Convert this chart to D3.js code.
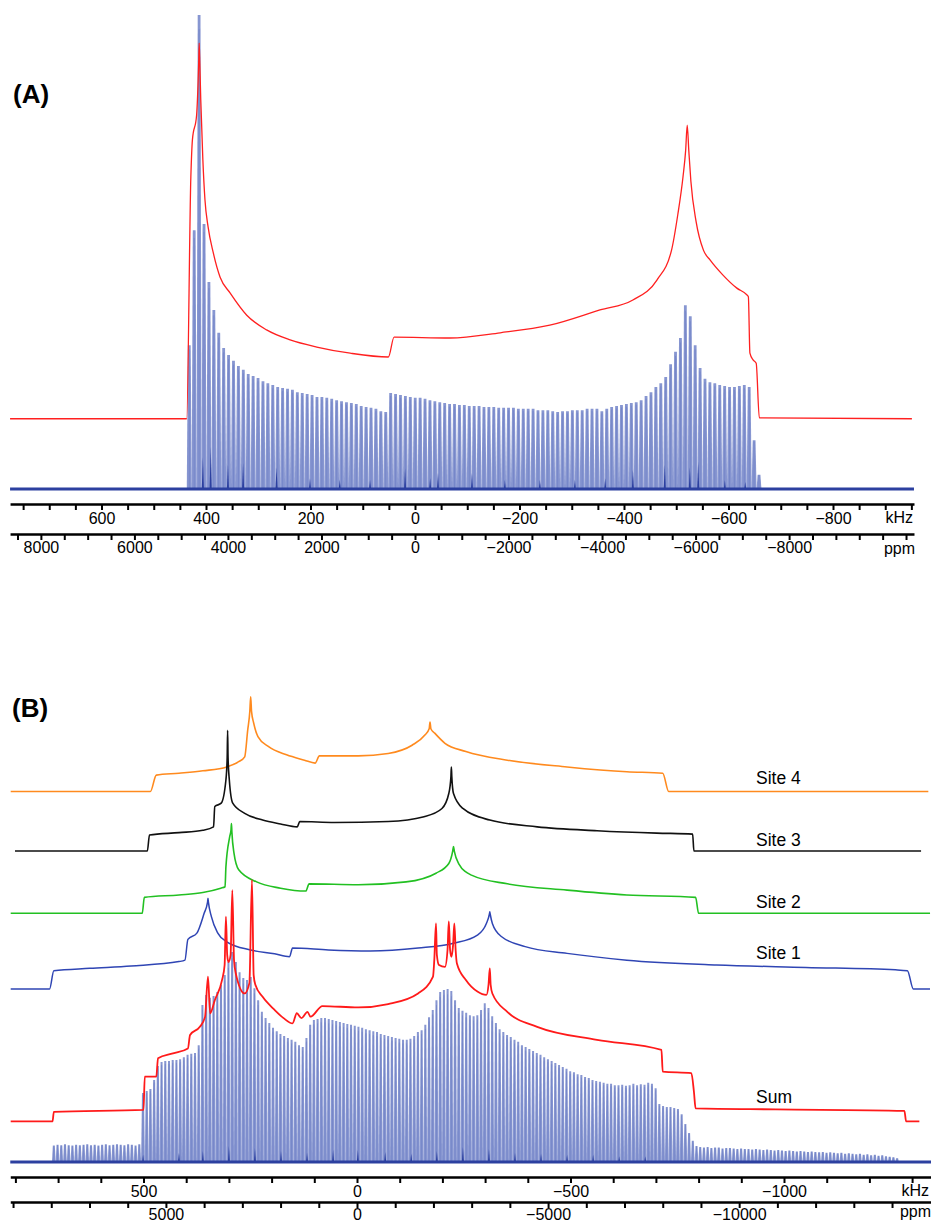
<!DOCTYPE html>
<html lang="en">
<head>
<meta charset="UTF-8">
<script src="https://d3js.org/d3.v7.min.js"></script>
<title>WURST-CPMG spectra</title>
<style>
  body { margin: 0; background: #fff; }
  svg text { font-family: "Liberation Sans", Arial, sans-serif; fill: #000; }
  .tick text { font-size: 16px; }
</style>
</head>
<body>
<svg id="chart" width="931" height="1222"></svg>
<script>
// ---------- panel A : experimental spikelets + simulation ----------
const larmor = 89.5;              // MHz, kHz <-> ppm
const axisExtA = [775, -955];     // kHz at the ends of the axis lines
const spkStartA = 432;            // kHz of first spikelet
const spkStepA = 9.4;             // spikelet spacing, kHz
const spkA = [30.5,54.7,100,56,43.8,37.9,33.1,29.9,28.4,27.2,26.1,25.3,24.4,24.0,23.6,22.9,22.5,22.1,21.7,21.5,
  21.3,21.1,20.6,20.4,20.2,20.0,19.6,19.6,19.4,19.2,18.9,18.7,18.5,18.3,18.1,17.7,17.5,17.3,17.1,16.6,
  16.4,20.4,20.2,20.0,19.8,19.6,19.4,19.4,19.2,18.9,18.7,18.5,18.3,18.1,18.1,17.9,17.9,17.7,17.7,17.7,
  17.5,17.5,17.5,17.3,17.3,17.3,17.3,17.1,17.1,17.1,17.1,16.8,16.8,16.8,16.6,16.4,16.6,16.6,16.8,16.8,
  16.8,17.1,17.1,17.1,16.6,17.1,17.5,17.7,17.9,18.1,18.3,18.5,18.9,19.8,20.6,21.7,22.5,23.8,26.5,29.1,
  32.0,38.9,36.6,30.5,25.7,23.4,22.7,22.5,22.1,21.9,21.7,21.7,21.9,22.1,21.7,10.5,3.2];
const satA = [[406,6.9],[391,9.1],[358,5.3],[329,5.7],[265,4.8],[201,2.5],[144,2.1],[86,2.1],[19,4.6],[-29,2.5],
  [-44,3.6],[-109,3.6],[-172,2.1],[-239,2.1],[-306,2.1],[-364,2.5],[-417,4.2],[-478,5.3],[-526,4.8],[-542,5.9],
  [-593,2.1],[-632,1.7]];
const redA = [[775,15.0],[437,15.0],[429,65.9],[426,73.7],[418,78.9],[414,90.0],[413,94.1],[412,90.5],[410,82.1],
  [406,69.5],[402,61.1],[396,55.4],[386,49.9],[373,44.8],[354,41.5],[322,36.8],[284,33.7],[239,31.6],[188,30.1],
  [124,28.8],[51,28.0],[40,32.2],[-67,32.0],[-163,33.1],[-258,34.7],[-354,37.9],[-417,40.0],[-463,44.2],
  [-491,50.5],[-503,58.0],[-513,66.0],[-518,71.5],[-521,76.8],[-524,71.5],[-528,65.0],[-538,56.5],[-552,50.5],
  [-565,48.4],[-589,45.3],[-616,42.5],[-635,41.1],[-638,40.7],[-641,28.8],[-647,27.4],[-653,26.7],[-659,15.2],
  [-951,15.0]];
const kHzLabA = [600,400,200,0,-200,-400,-600,-800];
const ppmLabA = [8000,6000,4000,2000,0,-2000,-4000,-6000,-8000];

// ---------- panel B : experimental spikelets + four sites and sum ----------
const axisExtB = [812, -1345];
const spkStartB = 710;
const spkStepB = 8.7;
const spkB = [3.6,3.8,3.7,3.9,3.7,3.6,3.8,3.7,3.8,3.9,3.7,3.8,3.6,3.8,3.9,3.7,3.8,3.9,3.8,3.7,3.9,3.8,3.6,3.9,
  14.5,14.9,15.3,17.2,20.1,20.9,21.1,21.1,21.3,21.3,21.5,21.9,22.4,22.6,22.8,24.4,32.7,34.8,34.2,34.6,35.4,36.9,
  38.9,41.6,43.7,41.6,39.5,38.3,37.9,38.5,36.2,33.7,31.3,30.0,29.0,28.0,27.3,26.7,26.3,25.9,25.5,25.1,24.4,24.0,
  25.9,28.6,29.6,29.8,30.0,30.0,29.8,29.6,29.4,29.2,29.0,28.8,28.6,28.4,28.2,28.0,27.7,27.5,27.3,27.1,26.7,26.5,
  26.3,26.1,25.9,25.7,25.5,25.5,25.7,26.3,27.1,27.5,28.6,30.2,31.7,33.7,35.4,35.8,36.0,35.6,33.7,32.1,31.5,31.1,
  30.6,30.4,30.6,31.7,33.1,32.1,30.4,29.0,27.7,27.1,26.5,26.1,25.5,25.1,24.4,24.0,23.6,23.2,22.8,22.4,21.9,21.5,
  21.1,20.7,20.3,19.9,19.5,19.0,18.8,18.4,18.2,17.8,17.6,17.2,17.0,16.8,16.6,16.4,16.4,16.1,16.1,16.2,16.0,16.1,
  16.4,16.1,16.3,16.2,16.6,16.4,15.5,12.2,11.8,11.6,11.6,11.4,11.2,10.1,8.1,6.2,4.6,3.5,
  3.3,3.2,3.3,3.1,3.2,3.2,3.0,3.1,3.1,3.0,2.9,3.0,2.9,2.9,2.8,2.9,2.8,2.7,2.8,2.7,2.6,2.7,2.6,2.5,2.6,2.5,2.4,
  2.5,2.4,2.3,2.4,2.3,2.2,2.3,2.1,2.2,2.1,2.0,2.1,1.9,2.0,1.9,1.8,1.9,1.7,1.8,1.6,1.7,1.5,1.6,1.4,1.3,1.2,1.0];
const satB = [[501,1.7],[417,2.1],[361,2.5],[300,3.5],[239,3.1],[178,2.5],[117,2.1],[56,2.7],[-2,2.7],[-66,2.3],
  [-127,1.9],[-187,2.5],[-248,3.3],[-309,2.9],[-370,2.1],[-431,1.9],[-492,1.7],[-553,1.7],[-614,1.4],[-675,1.4]];
const site4 = [[811,76.9],[484,76.9],[470,80.3],[417,80.7],[361,81.2],[305,82.0],[277,83.1],[263,84.1],[256,89.6],
  [251,93.5],[249,96.5],[247,93.5],[242,91.1],[232,88.3],[207,86.2],[165,84.5],[123,83.4],[98,82.8],[88,84.3],
  [-3,84.3],[-73,84.8],[-129,86.5],[-159,88.6],[-169,89.9],[-171,91.3],[-173,89.9],[-182,89.0],[-206,86.9],
  [-255,85.2],[-352,83.4],[-492,82.0],[-632,81.0],[-716,80.7],[-730,76.9],[-1338,76.9]];
const site3 = [[801,64.6],[491,64.6],[486,67.9],[417,68.4],[361,68.9],[336,69.6],[333,73.8],[318,74.5],[307,79.3],
  [304,84.0],[303,89.6],[302,84.0],[299,79.3],[291,74.5],[263,72.4],[221,71.0],[179,70.2],[140,69.6],[134,70.7],
  [53,70.5],[-73,70.7],[-157,71.7],[-199,73.4],[-215,76.5],[-220,80.0],[-221,82.0],[-222,80.0],[-226,76.5],
  [-248,73.4],[-311,71.0],[-422,69.6],[-562,68.8],[-702,68.3],[-786,68.1],[-789,64.6],[-1321,64.6]];
const site2 = [[811,51.7],[503,51.7],[498,55.0],[417,55.5],[361,56.0],[319,56.9],[309,57.2],[307,61.3],[298,67.6],
  [295,69.0],[294,70.3],[293,68.5],[288,64.1],[277,60.7],[235,58.2],[179,56.9],[120,56.3],[112,57.8],[-3,57.6],
  [-115,58.2],[-185,60.0],[-215,62.0],[-224,64.5],[-226,65.5],[-228,64.5],[-238,62.0],[-268,59.6],[-352,57.8],
  [-492,56.5],[-632,55.5],[-793,55.0],[-800,51.7],[-1342,51.7]];
const site1 = [[811,36.0],[720,36.0],[710,39.8],[626,40.3],[529,40.8],[417,41.7],[403,42.0],[396,46.3],[375,47.6],
  [358,51.7],[350,54.0],[349,54.8],[348,54.0],[341,51.0],[326,47.6],[305,45.8],[249,44.1],[193,43.3],[158,42.7],
  [151,44.5],[67,44.1],[-31,43.9],[-143,44.5],[-226,45.5],[-282,47.2],[-303,49.6],[-310,51.5],[-311,52.0],
  [-312,51.5],[-317,49.6],[-338,46.9],[-394,44.8],[-492,43.4],[-632,42.0],[-842,41.0],[-1051,40.5],[-1261,40.0],
  [-1289,39.8],[-1303,36.0],[-1342,36.0]];
const sumB = [[811,8.6],[713,8.6],[710,10.6],[500,11.0],[497,17.9],[470,17.9],[466,21.7],[431,22.7],[396,23.7],
  [391,26.5],[368,28.2],[356,30.2],[349,38.6],[344,31.0],[333,33.7],[316,37.9],[310,41.0],[307,51.0],[304,43.1],
  [301,41.6],[296,43.1],[292,56.5],[288,42.0],[284,39.3],[263,35.1],[252,37.3],[246,58.6],[242,38.9],[238,36.9],
  [221,34.4],[193,31.7],[172,30.0],[151,28.9],[141,31.0],[130,30.0],[116,31.3],[109,30.3],[81,32.5],[-3,32.2],
  [-73,32.9],[-143,35.1],[-178,38.6],[-181,42.0],[-185,49.6],[-187,43.1],[-192,41.0],[-206,40.6],[-212,44.1],
  [-215,50.0],[-218,44.1],[-221,42.7],[-225,45.1],[-228,49.6],[-231,44.1],[-234,41.3],[-255,37.9],[-282,35.5],
  [-303,34.8],[-308,36.9],[-311,40.3],[-313,36.9],[-317,35.1],[-352,31.3],[-422,28.2],[-562,25.5],[-713,23.4],
  [-716,18.9],[-783,18.6],[-789,14.8],[-793,11.3],[-981,11.1],[-1282,10.8],[-1286,8.6],[-1317,8.6]];
const kHzLabB = [500,0,-500,-1000];
const ppmLabB = [5000,0,-5000,-10000];
const siteNames = ["Site 4","Site 3","Site 2","Site 1","Sum"];

// ---------- drawing ----------
const svg = d3.select("#chart");
const fmt = d3.format("d");
const toPpm = v => v * 1000 / larmor;

function spectrum(g, x, y, start, step, heights, sats, halfW, topW) {
  const y0 = y(0);
  g.selectAll("path.spk").data(heights).join("path")
    .attr("class", "spk")
    .attr("d", (h, i) => {
      const cx = x(start - i * step), top = y(h);
      return `M${cx - halfW},${y0}L${cx - topW},${top}L${cx + topW},${top}L${cx + halfW},${y0}Z`;
    })
    .attr("fill", "#8796d1");
  g.selectAll("line.ctr").data(heights).join("line")
    .attr("class", "ctr")
    .attr("x1", (h, i) => x(start - i * step)).attr("x2", (h, i) => x(start - i * step))
    .attr("y1", y0).attr("y2", h => y(h * 0.97))
    .attr("stroke", "#3f54b0").attr("stroke-width", 0.5).attr("stroke-opacity", 0.45);
  const ext = x.domain();
  g.append("line")
    .attr("x1", x(ext[0])).attr("x2", x(ext[1]))
    .attr("y1", y0 - 1).attr("y2", y0 - 1)
    .attr("stroke", "#2c40a0").attr("stroke-width", 3);
  g.selectAll("path.sat").data(sats).join("path")
    .attr("class", "sat")
    .attr("d", d => `M${x(d[0]) - 1.1},${y0}L${x(d[0])},${y(d[1])}L${x(d[0]) + 1.1},${y0}Z`)
    .attr("fill", "#2c40a0");
}

function axes(x, ext, ppmTicks, kTicks, kLab, pLab, yk, yp, unitX, pPad, unitDy) {
  const xp = d3.scaleLinear().domain(ext.map(toPpm)).range(x.range());
  const ak = svg.append("g").attr("transform", `translate(0,${yk})`)
    .call(d3.axisBottom(x).tickValues(kTicks).tickSize(6).tickSizeOuter(0).tickPadding(3)
      .tickFormat(d => kLab.includes(d) ? fmt(d) : ""));
  const ap = svg.append("g").attr("transform", `translate(0,${yp})`)
    .call(d3.axisBottom(xp).tickValues(ppmTicks).tickSize(6).tickSizeOuter(0).tickPadding(pPad)
      .tickFormat(d => pLab.includes(d) ? fmt(d) : ""));
  [ak, ap].forEach(a => {
    a.select(".domain").attr("stroke", "#000").attr("stroke-width", 2.6);
    a.selectAll(".tick line").attr("stroke", "#000").attr("stroke-width", 2);
    a.selectAll(".tick text").attr("fill", "#000");
  });
  svg.append("text").attr("x", unitX).attr("y", yk + 19).attr("text-anchor", "end")
    .style("font-size", "16px").text("kHz");
  svg.append("text").attr("x", unitX + 2).attr("y", yp + unitDy).attr("text-anchor", "end")
    .style("font-size", "16px").text("ppm");
}

// panel A
const xA = d3.scaleLinear().domain(axisExtA).range(axisExtA.map(v => 415 - 0.5225 * v));
const yA = d3.scaleLinear().domain([0, 100]).range([490, 15]);
const gA = svg.append("g");
spectrum(gA, xA, yA, spkStartA, spkStepA, spkA, satA, 2.5, 1.4);
gA.append("path").datum(redA)
  .attr("d", d3.line().curve(d3.curveMonotoneX).x(d => xA(d[0])).y(d => yA(d[1])))
  .attr("fill", "none").attr("stroke", "#ff2020").attr("stroke-width", 1.3);
axes(xA, axisExtA, d3.range(8500, -10501, -500), d3.range(750, -951, -50), kHzLabA, ppmLabA, 504, 534, 913, 2, 20);
svg.append("text").attr("x", 13).attr("y", 103).style("font-size", "26px").style("font-weight", "bold").text("(A)");

// panel B
const xB = d3.scaleLinear().domain(axisExtB).range(axisExtB.map(v => 357 - 0.427 * v));
const yB = d3.scaleLinear().domain([0, 100]).range([1163, 680]);
const gB = svg.append("g");
spectrum(gB, xB, yB, spkStartB, spkStepB, spkB, satB, 1.9, 1.0);
const lineB = d3.line().curve(d3.curveMonotoneX).x(d => xB(d[0])).y(d => yB(d[1]));
const traces = [
  { data: site4, color: "#ff8a1e", w: 1.6 },
  { data: site3, color: "#111111", w: 1.6 },
  { data: site2, color: "#22c022", w: 1.6 },
  { data: site1, color: "#2f45b4", w: 1.5 },
  { data: sumB,  color: "#ff1a1a", w: 1.8 }
];
gB.selectAll("path.trace").data(traces).join("path")
  .attr("class", "trace")
  .attr("d", t => lineB(t.data))
  .attr("fill", "none").attr("stroke", t => t.color).attr("stroke-width", t => t.w);
const labelY = [784, 846, 908, 959, 1103];
svg.selectAll("text.site").data(siteNames).join("text")
  .attr("class", "site").attr("x", 756).attr("y", (d, i) => labelY[i])
  .style("font-size", "17.5px").text(d => d);
axes(xB, axisExtB, d3.range(9000, -14001, -1000), d3.range(800, -1301, -100), kHzLabB, ppmLabB, 1177, 1202, 929, 1, 15);
svg.append("text").attr("x", 12).attr("y", 717).style("font-size", "26px").style("font-weight", "bold").text("(B)");
</script>
</body>
</html>
